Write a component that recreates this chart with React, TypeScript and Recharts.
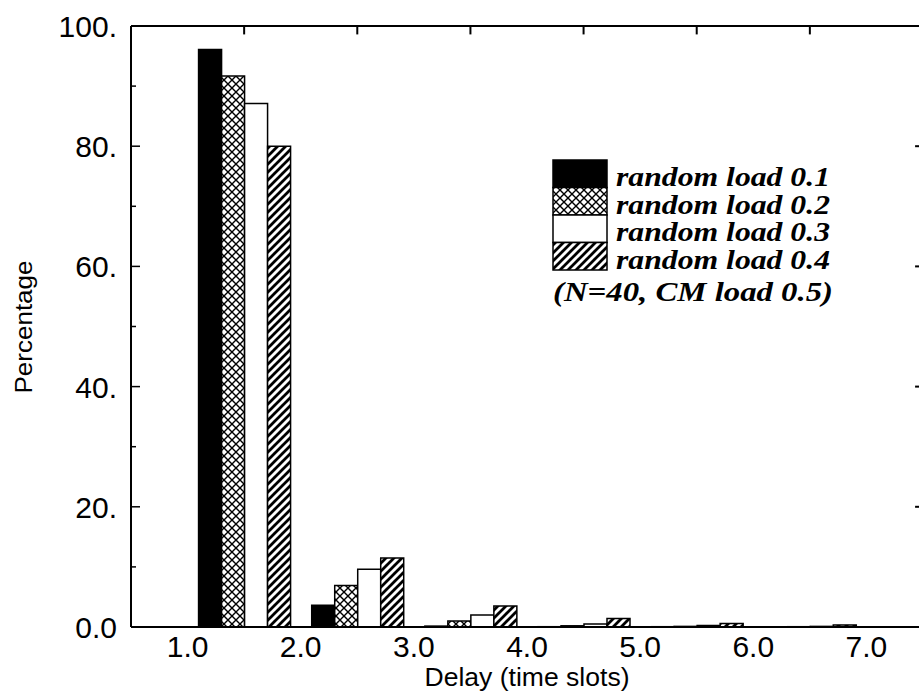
import React from 'react';
import { BarChart, Bar, XAxis, YAxis, Legend, ReferenceLine } from 'recharts';

// delay bins (time slots) and percentage of cells per bin
const delays = [1, 2, 3, 4, 5, 6];
const load01 = [96.1, 3.6, 0.15, 0.05, 0.05, 0.02];
const load02 = [91.7, 6.9, 1.0, 0.2, 0.1, 0.05];
const load03 = [87.1, 9.6, 2.0, 0.5, 0.25, 0.1];
const load04 = [80.0, 11.5, 3.5, 1.4, 0.6, 0.35];

const xTicks = [1, 2, 3, 4, 5, 6, 7];
const yTicks = [0, 10, 20, 30, 40, 50, 60, 70, 80, 90, 100];
const rightTicks = [20, 40, 60, 80];
const seriesNames = ['random load 0.1', 'random load 0.2', 'random load 0.3', 'random load 0.4'];
const note = '(N=40, CM load 0.5)';

const PLOT_LEFT = 131;
const PLOT_BOTTOM = 627;
const SANS = '"Liberation Sans", Arial, sans-serif';
const SERIF = '"Liberation Serif", "Times New Roman", serif';

// each bin is drawn over [d, d+1), so the group sits at its centre
const data = delays.map((d, i) => ({
  x: d + 0.5,
  l1: load01[i],
  l2: load02[i],
  l3: load03[i],
  l4: load04[i],
}));
const binCentres = delays.map(d => d + 0.5);

const series = [
  { key: 'l1', name: seriesNames[0], fill: '#000' },
  { key: 'l2', name: seriesNames[1], fill: 'url(#xhatch)' },
  { key: 'l3', name: seriesNames[2], fill: '#fff' },
  { key: 'l4', name: seriesNames[3], fill: 'url(#dhatch)' },
];

const YTick = (props: any) => {
  const { y, payload } = props;
  const v = payload.value;
  const major = v % 20 === 0;
  return (
    <g>
      <line x1={PLOT_LEFT} x2={PLOT_LEFT + (major ? 9 : 5)} y1={y} y2={y} stroke="#000" strokeWidth={1.5} />
      {major && (
        <text x={117} y={y} dy={11} textAnchor="end" fontSize={30} fontFamily={SANS} fill="#000">
          {v === 0 ? '0.0' : `${v}.`}
        </text>
      )}
    </g>
  );
};

const XTick = (props: any) => {
  const { x, payload } = props;
  return (
    <text x={x} y={PLOT_BOTTOM + 30} textAnchor="middle" fontSize={30} fontFamily={SANS} fill="#000">
      {payload.value.toFixed(1)}
    </text>
  );
};

const LegendBox = () => {
  const rowH = 27.5;
  return (
    <svg width={330} height={160} style={{ overflow: 'visible' }}>
      {series.map((s, i) => (
        <g key={s.key}>
          <rect x={1} y={2 + i * rowH} width={54} height={rowH} fill={s.fill} stroke="#000" strokeWidth={1.5} />
          <text
            x={64}
            y={28 + i * rowH}
            fontSize={27}
            fontFamily={SERIF}
            fontWeight="bold"
            fontStyle="italic"
            textLength={214}
            lengthAdjust="spacingAndGlyphs"
            fill="#000"
          >
            {s.name}
          </text>
        </g>
      ))}
      <text
        x={1}
        y={143}
        fontSize={28}
        fontFamily={SERIF}
        fontWeight="bold"
        fontStyle="italic"
        textLength={280}
        lengthAdjust="spacingAndGlyphs"
        fill="#000"
      >
        {note}
      </text>
    </svg>
  );
};

export default function App() {
  return (
    <div style={{ position: 'absolute', left: 0, top: 0, width: 919, height: 694, overflow: 'hidden', background: '#fff' }}>
      <BarChart
        width={928}
        height={694}
        data={data}
        margin={{ top: 25, right: 4, bottom: 7, left: 0 }}
        barSize={23}
        barGap={0}
      >
        <defs>
          <pattern id="xhatch" patternUnits="userSpaceOnUse" width={8} height={8}>
            <rect width={8} height={8} fill="#fff" />
            <path d="M0,0 L8,8 M8,0 L0,8" stroke="#000" strokeWidth={1.4} />
          </pattern>
          <pattern id="dhatch" patternUnits="userSpaceOnUse" width={8} height={8}>
            <rect width={8} height={8} fill="#fff" />
            <path d="M-2,2 L2,-2 M0,8 L8,0 M6,10 L10,6" stroke="#000" strokeWidth={2.8} />
          </pattern>
        </defs>
        <XAxis
          xAxisId="main"
          type="number"
          dataKey="x"
          domain={[0.5, 7.5]}
          ticks={xTicks}
          interval={0}
          height={60}
          tickLine={false}
          axisLine={{ stroke: '#000', strokeWidth: 2 }}
          tick={<XTick />}
        />
        <XAxis
          xAxisId="top"
          orientation="top"
          type="number"
          domain={[0.5, 7.5]}
          height={1}
          tick={false}
          tickLine={false}
          axisLine={{ stroke: '#000', strokeWidth: 2 }}
        />
        <YAxis
          yAxisId="left"
          domain={[0, 100]}
          ticks={yTicks}
          interval={0}
          width={131}
          tickLine={false}
          axisLine={{ stroke: '#000', strokeWidth: 2 }}
          tick={<YTick />}
        />
        <YAxis
          yAxisId="right"
          orientation="right"
          domain={[0, 100]}
          width={1}
          tick={false}
          tickLine={false}
          axisLine={{ stroke: '#000', strokeWidth: 2 }}
        />
        {/* inward tick marks on the top frame, at the bin centres */}
        {binCentres.map(c => (
          <ReferenceLine
            key={`t${c}`}
            xAxisId="main"
            yAxisId="left"
            segment={[{ x: c, y: 100 }, { x: c, y: 98.6 }]}
            stroke="#000"
            strokeWidth={2}
          />
        ))}
        {/* inward tick marks on the right frame */}
        {rightTicks.map(v => (
          <ReferenceLine
            key={`r${v}`}
            xAxisId="main"
            yAxisId="left"
            segment={[{ x: 7.43, y: v }, { x: 7.5, y: v }]}
            stroke="#000"
            strokeWidth={2}
          />
        ))}
        {series.map(s => (
          <Bar
            key={s.key}
            xAxisId="main"
            yAxisId="left"
            dataKey={s.key}
            name={s.name}
            fill={s.fill}
            stroke="#000"
            strokeWidth={1.5}
            isAnimationActive={false}
          />
        ))}
        <Legend
          layout="horizontal"
          verticalAlign="middle"
          content={<LegendBox />}
          wrapperStyle={{ position: 'absolute', left: 552, top: 158, width: 330, height: 160 }}
        />
        <text
          x={23}
          y={327}
          transform="rotate(-90 23 327)"
          textAnchor="middle"
          dominantBaseline="central"
          fontSize={24}
          fontFamily={SANS}
          textLength={133}
          lengthAdjust="spacingAndGlyphs"
          fill="#000"
        >
          Percentage
        </text>
        <text
          x={527}
          y={686}
          textAnchor="middle"
          fontSize={25}
          fontFamily={SANS}
          textLength={205}
          lengthAdjust="spacingAndGlyphs"
          fill="#000"
        >
          Delay (time slots)
        </text>
      </BarChart>
    </div>
  );
}
